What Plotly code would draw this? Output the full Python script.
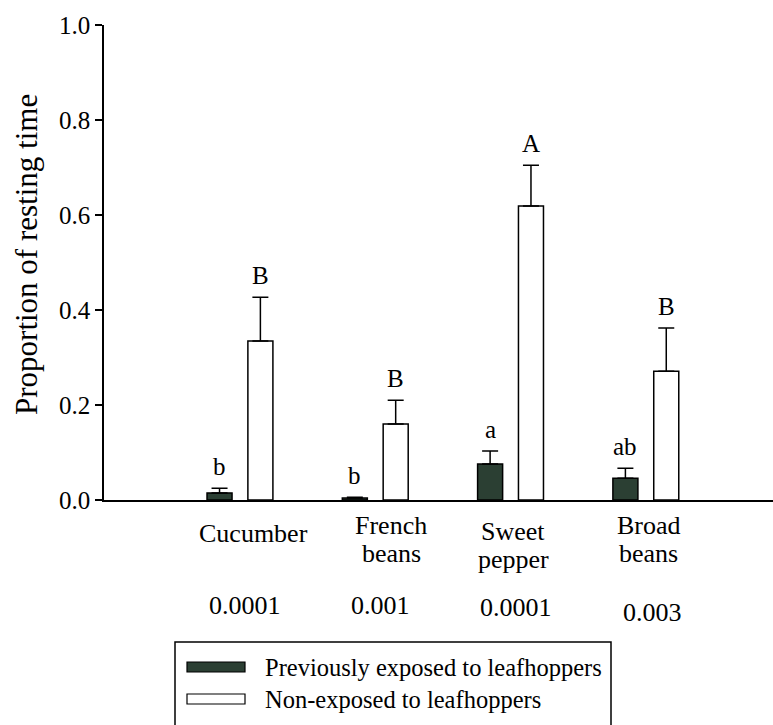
import plotly.graph_objects as go

# Plant species tested and the mean proportion of resting time (+ SE)
plants = ["Cucumber", "French beans", "Sweet pepper", "Broad beans"]
plant_label_lines = [["Cucumber"], ["French", "beans"], ["Sweet", "pepper"], ["Broad", "beans"]]
p_values = ["0.0001", "0.001", "0.0001", "0.003"]

exposed_mean = [0.015, 0.004, 0.076, 0.046]
exposed_se = [0.010, 0.002, 0.027, 0.021]
exposed_letters = ["b", "b", "a", "ab"]

nonexposed_mean = [0.335, 0.160, 0.619, 0.271]
nonexposed_se = [0.092, 0.050, 0.086, 0.091]
nonexposed_letters = ["B", "B", "A", "B"]

legend_names = ["Previously exposed to leafhoppers", "Non-exposed to leafhoppers"]

FONT = "Liberation Serif, Times New Roman, serif"
DARK = "#2b3f33"
BAR_W = 0.185
HALF_SEP = 0.151

W, H = 773, 725
L, R, T, B = 104, 0, 25, 225
pw, ph = W - L - R, H - T - B


def px_x(x):
    return (x - L) / pw


def px_y(y):
    return (H - B - y) / ph


fig = go.Figure()

fig.add_trace(go.Bar(
    x=plants, y=exposed_mean, name=legend_names[0],
    width=BAR_W, offset=-HALF_SEP - BAR_W / 2,
    marker=dict(color=DARK, line=dict(color="black", width=1.5)),
    error_y=dict(type="data", symmetric=False, array=exposed_se,
                 arrayminus=[0] * len(exposed_se),
                 color="black", thickness=1.5, width=8),
    showlegend=False,
))
fig.add_trace(go.Bar(
    x=plants, y=nonexposed_mean, name=legend_names[1],
    width=BAR_W, offset=HALF_SEP - BAR_W / 2,
    marker=dict(color="white", line=dict(color="black", width=1.5)),
    error_y=dict(type="data", symmetric=False, array=nonexposed_se,
                 arrayminus=[0] * len(nonexposed_se),
                 color="black", thickness=1.5, width=8),
    showlegend=False,
))

annotations = []

# significance letters above each error bar
for i, p in enumerate(plants):
    for mean, se, letters, sign in (
        (exposed_mean, exposed_se, exposed_letters, -1),
        (nonexposed_mean, nonexposed_se, nonexposed_letters, 1),
    ):
        annotations.append(dict(
            x=i + sign * HALF_SEP, xref="x", y=mean[i] + se[i], yref="y",
            text=letters[i], showarrow=False, yanchor="bottom", yshift=6,
            font=dict(family=FONT, size=25, color="black"),
        ))

# plant names (one annotation per line) and P-values under the axis
label_dx = [0.10, 0.12, 0.02, 0.02]
label_top = [533, 525, 531, 525]
pval_dx = [0.04, 0.04, 0.04, 0.05]
pval_y = [605, 605, 607, 612]
for i, p in enumerate(plants):
    for k, line in enumerate(plant_label_lines[i]):
        annotations.append(dict(
            x=i + label_dx[i], xref="x", y=px_y(label_top[i] + 28 * k),
            yref="paper", yanchor="middle", text=line, showarrow=False,
            font=dict(family=FONT, size=26, color="black"),
        ))
    annotations.append(dict(
        x=i + pval_dx[i], xref="x", y=px_y(pval_y[i]), yref="paper",
        yanchor="middle", text=p_values[i], showarrow=False,
        font=dict(family=FONT, size=26, color="black"),
    ))

# y-axis title
annotations.append(dict(
    x=px_x(27), xref="paper", y=px_y(255), yref="paper",
    text="Proportion of resting time",
    textangle=-90, showarrow=False, xanchor="center", yanchor="middle",
    font=dict(family=FONT, size=31, color="black"),
))

# legend box drawn as shapes with text
shapes = [
    dict(type="rect", xref="paper", yref="paper", layer="above",
         x0=px_x(175), x1=px_x(611), y0=px_y(H + 40), y1=px_y(642),
         line=dict(color="black", width=1.5), fillcolor="rgba(0,0,0,0)"),
]
legend_rows = [(667, DARK), (699, "white")]
for (yc, col), name in zip(legend_rows, legend_names):
    shapes.append(dict(
        type="rect", xref="paper", yref="paper",
        x0=px_x(187), x1=px_x(245), y0=px_y(yc + 5), y1=px_y(yc - 5),
        line=dict(color="black", width=1.2), fillcolor=col,
    ))
    annotations.append(dict(
        x=px_x(263), xref="paper", y=px_y(yc), yref="paper",
        xanchor="left", yanchor="middle", text=name, showarrow=False,
        font=dict(family=FONT, size=24.5, color="black"),
    ))

fig.update_layout(
    width=W, height=H,
    margin=dict(l=L, r=R, t=T, b=B),
    paper_bgcolor="white", plot_bgcolor="white",
    barmode="overlay",
    font=dict(family=FONT, color="black"),
    xaxis=dict(
        range=[-1.005, 3.94], showticklabels=False, ticks="",
        showline=True, linecolor="black", linewidth=1.5,
        showgrid=False, zeroline=False, fixedrange=True,
    ),
    yaxis=dict(
        range=[0, 1.0], tickvals=[0, 0.2, 0.4, 0.6, 0.8, 1.0],
        tickformat=".1f", ticks="outside", ticklen=7, tickwidth=1.5,
        tickcolor="black", showline=True, linecolor="black", linewidth=1.5,
        showgrid=False, zeroline=False,
        tickfont=dict(family=FONT, size=25, color="black"),
    ),
    annotations=annotations,
    shapes=shapes,
)

fig.write_html("out.html")
